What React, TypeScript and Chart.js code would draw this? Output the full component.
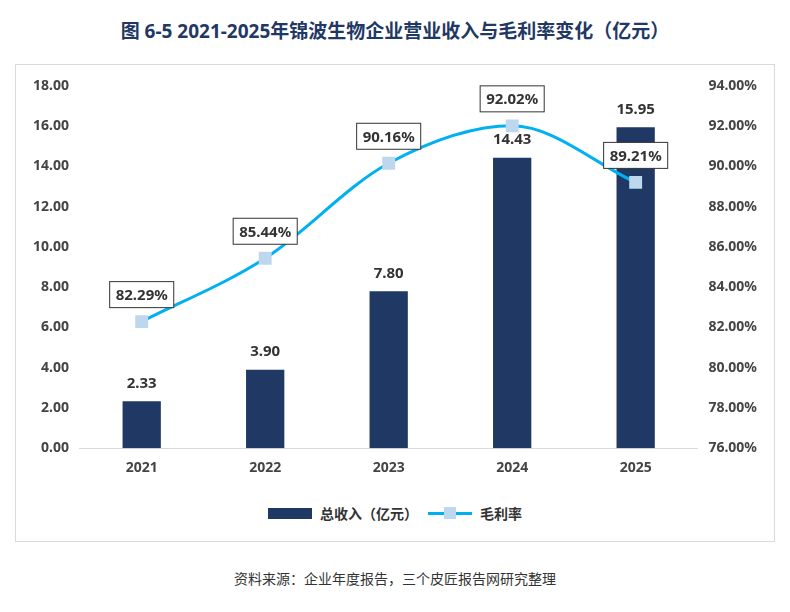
import React, { useEffect, useRef } from 'react';
import Chart from 'chart.js/auto';

const years = ['2021', '2022', '2023', '2024', '2025'];
const revenue = [2.33, 3.9, 7.8, 14.43, 15.95];
const margin = [82.29, 85.44, 90.16, 92.02, 89.21];

const FONT = '"Noto Sans", "Noto Sans CJK SC", sans-serif';

const labelPlugin = {
  id: 'valueLabels',
  afterDatasetsDraw(chart: any) {
    const ctx = chart.ctx;
    ctx.save();
    ctx.font = `bold 15px ${FONT}`;
    ctx.textAlign = 'center';
    ctx.textBaseline = 'middle';
    chart.getDatasetMeta(0).data.forEach((bar: any, i: number) => {
      ctx.fillStyle = '#333';
      ctx.fillText(revenue[i].toFixed(2), bar.x, bar.y - 18);
    });
    chart.getDatasetMeta(1).data.forEach((pt: any, i: number) => {
      const t = margin[i].toFixed(2) + '%';
      const w = ctx.measureText(t).width + 12;
      const h = 26;
      const cy = pt.y - 27;
      ctx.fillStyle = '#fff';
      ctx.fillRect(pt.x - w / 2, cy - h / 2, w, h);
      ctx.strokeStyle = '#333';
      ctx.lineWidth = 1;
      ctx.strokeRect(pt.x - w / 2, cy - h / 2, w, h);
      ctx.fillStyle = '#333';
      ctx.fillText(t, pt.x, cy + 1);
    });
    ctx.restore();
  },
};

const App: React.FC = () => {
  const ref = useRef<HTMLCanvasElement>(null);
  useEffect(() => {
    if (!ref.current) return;
    const chart = new Chart(ref.current, {
      type: 'bar',
      data: {
        labels: years,
        datasets: [
          {
            type: 'bar',
            label: '总收入（亿元）',
            data: revenue,
            backgroundColor: '#1f3864',
            yAxisID: 'y',
            barPercentage: 0.31,
            categoryPercentage: 1,
            order: 2,
          },
          {
            type: 'line',
            label: '毛利率',
            data: margin,
            borderColor: '#00b0f0',
            backgroundColor: '#bdd7ee',
            borderWidth: 3,
            pointStyle: 'rect',
            pointRadius: 7,
            pointBorderColor: '#bdd7ee',
            cubicInterpolationMode: 'monotone',
            yAxisID: 'y1',
            order: 1,
          } as any,
        ],
      },
      options: {
        animation: false,
        responsive: true,
        maintainAspectRatio: false,
        layout: { padding: { left: 10, right: 10, top: 15, bottom: 0 } },
        plugins: {
          legend: { display: false },
          tooltip: { enabled: false },
        },
        scales: {
          x: {
            grid: { display: false },
            border: { color: '#d9d9d9' },
            ticks: { color: '#444', font: { family: FONT, size: 14, weight: 'bold' } },
          },
          y: {
            min: 0,
            max: 18,
            ticks: { stepSize: 2, color: '#444', callback: (v: any) => Number(v).toFixed(2), font: { family: FONT, size: 14, weight: 'bold' } },
            grid: { display: false },
            border: { display: false },
          },
          y1: {
            position: 'right',
            min: 76,
            max: 94,
            ticks: { stepSize: 2, color: '#444', callback: (v: any) => Number(v).toFixed(2) + '%', font: { family: FONT, size: 14, weight: 'bold' } },
            grid: { display: false },
            border: { display: false },
          },
        },
      },
      plugins: [labelPlugin],
    });
    return () => chart.destroy();
  }, []);

  const legendText = { color: '#333', fontWeight: 'bold' as const, fontSize: 14 };

  return (
    <div style={{ width: 774, fontFamily: FONT }}>
      <div style={{ textAlign: 'center', color: '#1f3864', fontWeight: 'bold', fontSize: 19, height: 56, lineHeight: '46px' }}>
        图  6-5 2021-2025年锦波生物企业营业收入与毛利率变化（亿元）
      </div>
      <div style={{ border: '1px solid #d9d9d9', margin: '0 7px', height: 478, boxSizing: 'border-box', padding: '6px 4px 0' }}>
        <div style={{ height: 408, position: 'relative' }}>
          <canvas ref={ref}></canvas>
        </div>
        <div style={{ display: 'flex', justifyContent: 'center', alignItems: 'center', gap: 8, marginTop: 24 }}>
          <span style={{ display: 'inline-block', width: 44, height: 11, background: '#1f3864' }}></span>
          <span style={legendText}>总收入（亿元）</span>
          <span style={{ position: 'relative', display: 'inline-block', width: 44, height: 12, marginLeft: 2 }}>
            <span style={{ position: 'absolute', left: 0, right: 0, top: 4.5, height: 3, background: '#00b0f0' }}></span>
            <span style={{ position: 'absolute', left: 16, top: 0, width: 12, height: 12, background: '#bdd7ee' }}></span>
          </span>
          <span style={legendText}>毛利率</span>
        </div>
      </div>
      <div style={{ textAlign: 'center', color: '#333', fontSize: 14, marginTop: 26 }}>
        资料来源：企业年度报告，三个皮匠报告网研究整理
      </div>
    </div>
  );
};

export default App;
